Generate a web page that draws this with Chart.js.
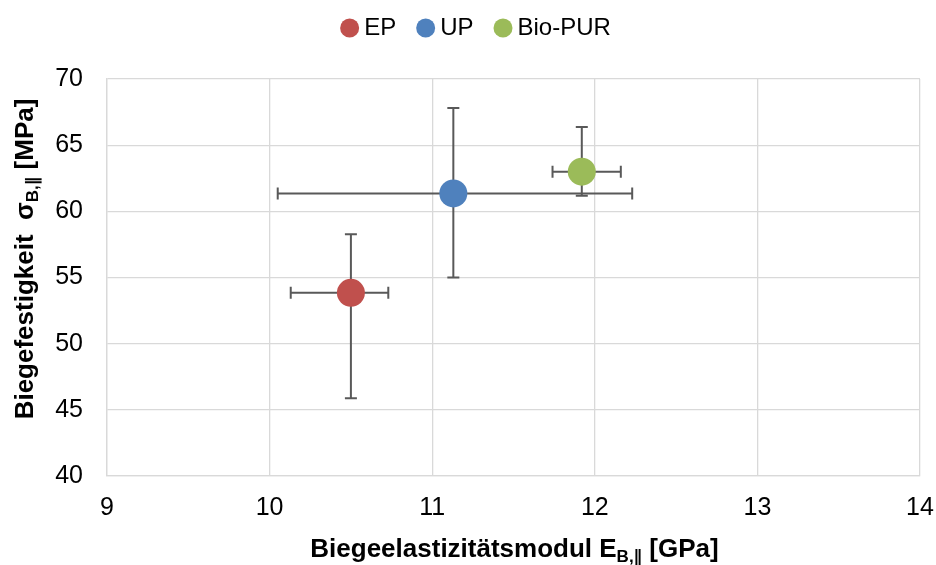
<!DOCTYPE html>
<html>
<head>
<meta charset="utf-8">
<script src="https://cdn.jsdelivr.net/npm/chart.js@4.4.1/dist/chart.umd.min.js"></script>
<style>
html,body{margin:0;padding:0;background:#fff;}
#wrap{position:relative;width:936px;height:565px;}
</style>
</head>
<body>
<div id="wrap"><canvas id="c" width="936" height="565"></canvas></div>
<script>
// ---- data ----
const seriesNames = ['EP', 'UP', 'Bio-PUR'];
const seriesColors = ['#C0504D', '#4F81BD', '#9BBB59'];
const xValues = [10.50, 11.13, 11.92];
const yValues = [53.84, 61.35, 63.00];
const xLow  = [10.13, 10.05, 11.74];
const xHigh = [10.73, 12.23, 12.16];
const yLow  = [45.87, 55.00, 61.17];
const yHigh = [58.26, 67.80, 66.38];
const xAxisRange = [9, 14, 1];
const yAxisRange = [40, 70, 5];
const xTitleParts = ['Biegeelastizitätsmodul E', 'B,∥', ' [GPa]'];
const yTitleParts = ['Biegefestigkeit  σ', 'B,∥', ' [MPa]'];

const FONT = '"Liberation Sans", Arial, sans-serif';

const datasets = seriesNames.map((name, i) => ({
  label: name,
  data: [{x: xValues[i], y: yValues[i]}],
  backgroundColor: seriesColors[i],
  borderColor: seriesColors[i],
  borderWidth: 0,
  pointRadius: 14,
  pointHoverRadius: 14,
  errXLow: xLow[i], errXHigh: xHigh[i], errYLow: yLow[i], errYHigh: yHigh[i]
}));

const errorBarPlugin = {
  id: 'errorBars',
  beforeDatasetsDraw(chart) {
    const ctx = chart.ctx, xs = chart.scales.x, ys = chart.scales.y;
    ctx.save();
    ctx.strokeStyle = '#595959';
    ctx.lineWidth = 2;
    const cap = 6;
    chart.data.datasets.forEach(ds => {
      const p = ds.data[0];
      const px = xs.getPixelForValue(p.x), py = ys.getPixelForValue(p.y);
      const xl = xs.getPixelForValue(ds.errXLow), xh = xs.getPixelForValue(ds.errXHigh);
      const yl = ys.getPixelForValue(ds.errYLow), yh = ys.getPixelForValue(ds.errYHigh);
      ctx.beginPath();
      ctx.moveTo(xl, py); ctx.lineTo(xh, py);
      ctx.moveTo(xl, py - cap); ctx.lineTo(xl, py + cap);
      ctx.moveTo(xh, py - cap); ctx.lineTo(xh, py + cap);
      ctx.moveTo(px, yl); ctx.lineTo(px, yh);
      ctx.moveTo(px - cap, yl); ctx.lineTo(px + cap, yl);
      ctx.moveTo(px - cap, yh); ctx.lineTo(px + cap, yh);
      ctx.stroke();
    });
    ctx.restore();
  }
};

function drawSubTitle(ctx, parts, mainFont, subFont, subDrop) {
  ctx.font = mainFont; const w0 = ctx.measureText(parts[0]).width;
  ctx.font = subFont;  const w1 = ctx.measureText(parts[1]).width;
  ctx.font = mainFont; const w2 = ctx.measureText(parts[2]).width;
  let x = -(w0 + w1 + w2) / 2;
  ctx.textAlign = 'left';
  ctx.textBaseline = 'alphabetic';
  ctx.font = mainFont; ctx.fillText(parts[0], x, 0); x += w0;
  ctx.font = subFont;  ctx.fillText(parts[1], x, subDrop); x += w1;
  ctx.font = mainFont; ctx.fillText(parts[2], x, 0);
}

const axisTitlePlugin = {
  id: 'axisTitles',
  afterDraw(chart) {
    const ctx = chart.ctx;
    const mainFont = 'bold 26px ' + FONT;
    const subFont = 'bold 17px "Liberation Sans", "DejaVu Sans", Arial, sans-serif';
    const ca = chart.chartArea;
    ctx.save();
    ctx.fillStyle = '#000';
    ctx.translate((ca.left + ca.right) / 2 + 1, 557);
    drawSubTitle(ctx, xTitleParts, mainFont, subFont, 5);
    ctx.restore();
    ctx.save();
    ctx.fillStyle = '#000';
    ctx.translate(33, 259);
    ctx.rotate(-Math.PI / 2);
    drawSubTitle(ctx, yTitleParts, mainFont, subFont, 5);
    ctx.restore();
  }
};

const customLegend = {
  id: 'customLegend',
  afterDraw(chart) {
    const ctx = chart.ctx;
    const r = 9.5, gapText = 5, gapItem = 20, cy = 28, centerX = 475.5;
    ctx.save();
    ctx.font = '24px ' + FONT;
    const items = chart.data.datasets.map(ds => ({ text: ds.label, color: ds.backgroundColor, w: ctx.measureText(ds.label).width }));
    let total = 0;
    items.forEach((it, i) => { total += 2 * r + gapText + it.w + (i < items.length - 1 ? gapItem : 0); });
    let x = centerX - total / 2;
    ctx.textBaseline = 'middle';
    ctx.textAlign = 'left';
    items.forEach(it => {
      ctx.fillStyle = it.color;
      ctx.beginPath();
      ctx.arc(x + r, cy, r, 0, Math.PI * 2);
      ctx.fill();
      x += 2 * r + gapText;
      ctx.fillStyle = '#000';
      ctx.fillText(it.text, x, cy);
      x += it.w + gapItem;
    });
    ctx.restore();
  }
};

new Chart(document.getElementById('c'), {
  type: 'scatter',
  data: { datasets },
  plugins: [errorBarPlugin, axisTitlePlugin, customLegend],
  options: {
    responsive: false,
    animation: false,
    events: [],
    layout: { padding: { left: 0, right: 16, top: 79, bottom: 0 } },
    plugins: {
      legend: { display: false },
      tooltip: { enabled: false }
    },
    scales: {
      x: {
        type: 'linear',
        min: xAxisRange[0], max: xAxisRange[1],
        ticks: { stepSize: xAxisRange[2], color: '#000', padding: 17, maxRotation: 0,
          font: { family: FONT, size: 25 } },
        grid: { color: '#d9d9d9', lineWidth: 1.3, drawTicks: false },
        border: { display: true, color: '#d9d9d9', width: 1.3 },
        afterFit(s) { s.height = 89; s.paddingLeft = 0; s.paddingRight = 0; }
      },
      y: {
        type: 'linear',
        min: yAxisRange[0], max: yAxisRange[1],
        ticks: { stepSize: yAxisRange[2], color: '#000', padding: 24,
          font: { family: FONT, size: 25 } },
        grid: { color: '#d9d9d9', lineWidth: 1.3, drawTicks: false },
        border: { display: true, color: '#d9d9d9', width: 1.3 },
        afterFit(s) { s.width = 107; s.paddingTop = 0; s.paddingBottom = 0; }
      }
    }
  }
});
</script>
</body>
</html>
